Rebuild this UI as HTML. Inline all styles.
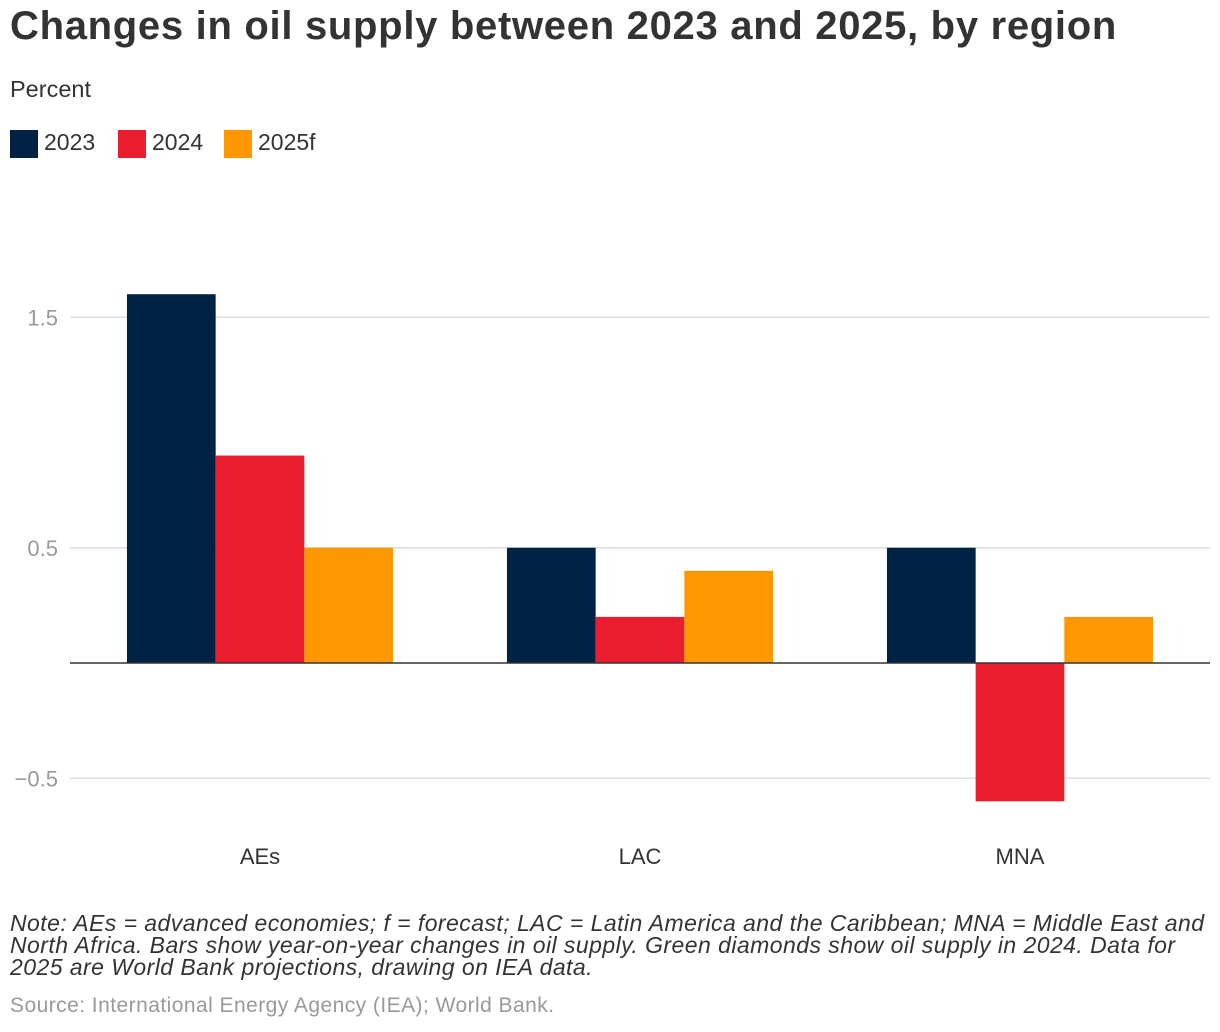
<!DOCTYPE html>
<html><head><meta charset="utf-8"><style>
body{margin:0;width:1220px;height:1032px;background:#fff;font-family:"Liberation Sans",sans-serif;overflow:hidden;position:relative}
.t{position:absolute;white-space:nowrap}
</style></head><body>
<div class="t" style="left:10px;top:4px;font-size:40px;font-weight:bold;color:#333;letter-spacing:0.7px">Changes in oil supply between 2023 and 2025, by region</div>
<div class="t" style="left:10px;top:76px;font-size:23.5px;color:#333">Percent</div>
<div class="t" style="left:10px;top:129px;font-size:23px;color:#333"><span style="display:inline-block;width:28px;height:28px;background:#002244;vertical-align:middle;margin-right:6px"></span>2023</div>
<div class="t" style="left:118px;top:129px;font-size:23px;color:#333"><span style="display:inline-block;width:28px;height:28px;background:#eb1e2f;vertical-align:middle;margin-right:6px"></span>2024</div>
<div class="t" style="left:224px;top:129px;font-size:23px;color:#333"><span style="display:inline-block;width:28px;height:28px;background:#ff9800;vertical-align:middle;margin-right:6px"></span>2025f</div>
<svg id="chart" width="1220" height="1032" style="position:absolute;left:0;top:0" font-family="Liberation Sans, sans-serif"></svg>
<div class="t" style="left:10px;top:912px;font-size:23px;letter-spacing:0.45px;font-style:italic;color:#333;line-height:22px">Note: AEs = advanced economies; f = forecast; LAC = Latin America and the Caribbean; MNA = Middle East and<br>North Africa. Bars show year-on-year changes in oil supply. Green diamonds show oil supply in 2024. Data for<br>2025 are World Bank projections, drawing on IEA data.</div>
<div class="t" style="left:10px;top:994px;font-size:21px;letter-spacing:0.45px;color:#999">Source: International Energy Agency (IEA); World Bank.</div>
<script>
const categories=["AEs","LAC","MNA"];
const seriesNames=["2023","2024","2025f"];
const v2023=[1.6,0.5,0.5];
const v2024=[0.9,0.2,-0.6];
const v2025=[0.5,0.4,0.2];
const ticks=[-0.5,0.5,1.5];
const tickLabels=["\u22120.5","0.5","1.5"];
const colors=["#002244","#eb1e2f","#ff9800"];
const svg=document.getElementById('chart');
const NS="http://www.w3.org/2000/svg";
const y=v=>663-v*230.5;
const x0=70,band=380,barW=88.7;
function mk(t,a){const e=document.createElementNS(NS,t);for(const k in a)e.setAttribute(k,a[k]);svg.appendChild(e);return e;}
ticks.forEach((t,i)=>{
 const l=mk('line',{x1:x0,x2:1210,y1:y(t),y2:y(t),stroke:'#ddd','stroke-width':1.5});
 
 
 const tx=mk('text',{x:58,y:y(t)+8,'text-anchor':'end','font-size':22,fill:'#999'});
 tx.textContent=tickLabels[i];
 
 
});
[v2023,v2024,v2025].forEach((s,si)=>{
 s.forEach((v,ci)=>{
  const cx=x0+band*ci+band/2;
  const bx=cx-1.5*barW+si*barW;
  const r=mk('rect',{x:bx,y:Math.min(y(v),y(0)),width:barW,height:Math.abs(y(v)-y(0)),fill:colors[si]});
  
  
 });
});
const zl=mk('line',{x1:x0,x2:1210,y1:y(0),y2:y(0),stroke:'#333','stroke-width':1.5});


categories.forEach((c,ci)=>{
 const t=mk('text',{x:x0+band*ci+band/2,y:864,'text-anchor':'middle','font-size':22,fill:'#333'});
 t.textContent=c;
 
 
});
</script>
</body></html>
